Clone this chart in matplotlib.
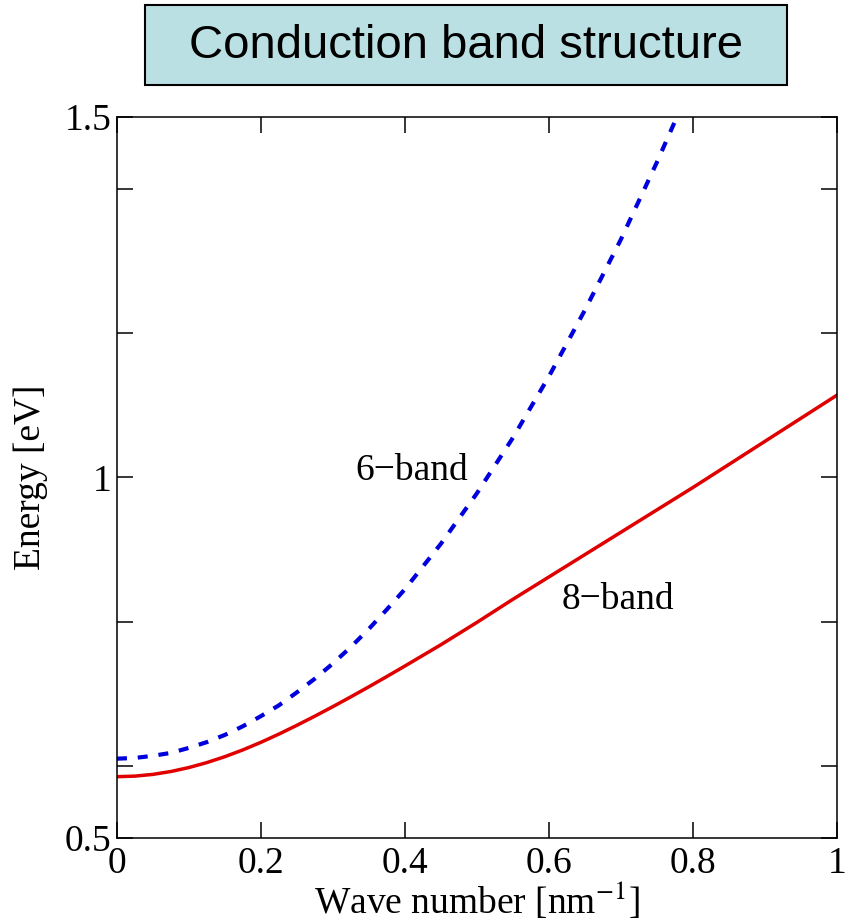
#!/usr/bin/env python3

import numpy as np
import matplotlib
matplotlib.use("Agg")
import matplotlib.pyplot as plt
from matplotlib.patches import Rectangle

# wave number [1/nm], finer steps where the bands curve most
k = [0.0, 0.025, 0.05, 0.075, 0.1, 0.125, 0.15, 0.175, 0.2, 0.225, 0.25,
     0.275, 0.3, 0.325, 0.35, 0.375, 0.4, 0.45, 0.5, 0.55, 0.6, 0.65,
     0.7, 0.75, 0.8, 0.85, 0.9, 0.95, 1.0]

# 8-band model (red, solid)
e_8band = [0.585, 0.5858, 0.5882, 0.5922, 0.5977, 0.6046, 0.6128, 0.6222, 0.6327, 0.6441, 0.6563,
           0.669, 0.6822, 0.6958, 0.7097, 0.724, 0.7385, 0.768, 0.799, 0.831, 0.862, 0.893,
           0.924, 0.955, 0.986, 1.018, 1.050, 1.082, 1.114]

# 6-band model (blue, dashed) - leaves the plot near k=0.78
k_6 = k[:25]
e_6band = [0.610, 0.611, 0.614, 0.618, 0.625, 0.633, 0.643, 0.655, 0.669, 0.684, 0.702,
           0.721, 0.742, 0.765, 0.790, 0.817, 0.845, 0.908, 0.978, 1.055, 1.140, 1.232,
           1.330, 1.437, 1.550]

xticks = [0, 0.2, 0.4, 0.6, 0.8, 1]
xticklabels = ["0", "0.2", "0.4", "0.6", "0.8", "1"]
yticks = [0.5, 1.0, 1.5]
yticklabels = ["0.5", "1", "1.5"]
yminor = [0.6, 0.8, 1.2, 1.4]

plt.rcParams["font.family"] = ["Liberation Serif", "DejaVu Serif"]
plt.rcParams["mathtext.fontset"] = "stix"

fig = plt.figure(figsize=(8.6, 9.24), dpi=100)
ax = fig.add_axes([0.136, 0.0931, 0.837, 0.7803])

ax.plot(k_6, e_6band, color="#0000dd", linewidth=3.0, linestyle=(0, (2.4, 2.6)))
ax.plot(k, e_8band, color="#e00000", linewidth=2.5)

ax.set_xlim(0, 1)
ax.set_ylim(0.5, 1.5)
ax.set_xticks(xticks)
ax.set_xticklabels(xticklabels)
ax.set_yticks(yticks)
ax.set_yticklabels(yticklabels)
ax.set_yticks(yminor, minor=True)

ax.tick_params(which="both", direction="in", length=11.5, width=1.1,
               top=True, right=True, labelsize=27)
ax.tick_params(axis="x", pad=6)
ax.tick_params(axis="y", pad=4)
for s in ax.spines.values():
    s.set_linewidth(1.1)

ax.set_xlabel("Wave number [nm$^{-1}$]", fontsize=27, labelpad=0)
ax.set_ylabel("Energy [eV]", fontsize=27, labelpad=12)

ax.text(0.41, 1.01, "6\u2212band", fontsize=27, ha="center", va="center")
ax.text(0.696, 0.83, "8\u2212band", fontsize=27, ha="center", va="center")

# title box
fig.patches.append(Rectangle((145 / 860, 1 - 85 / 924), 642 / 860, 80 / 924,
                             transform=fig.transFigure, facecolor="#bbe0e3",
                             edgecolor="black", linewidth=1.5))
fig.text(466 / 860, 1 - 46 / 924, "Conduction band structure", fontsize=34,
         family=["Liberation Sans", "DejaVu Sans"], ha="center", va="center")

plt.savefig("out.png", dpi=100)
